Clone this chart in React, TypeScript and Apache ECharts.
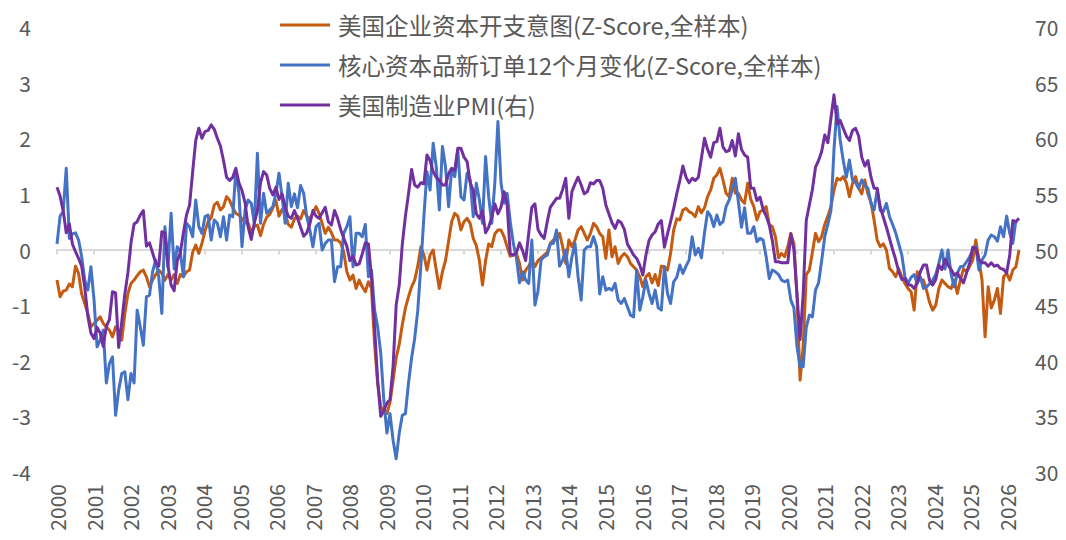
import React, { useEffect, useRef } from "react";
import * as echarts from "echarts";

// Monthly data, Jan 2000 onwards (index 0 = 2000-01)
const startYear = 2000;
const endYear = 2026;

const seriesNames = [
  "美国企业资本开支意图(Z-Score,全样本)",
  "核心资本品新订单12个月变化(Z-Score,全样本)",
  "美国制造业PMI(右)",
];

const capexIntent = [
  -0.55,-0.85,-0.75,-0.73,-0.62,-0.67,-0.30,-0.43,-0.80,-0.97,
  -1.15,-1.39,-1.33,-1.27,-1.21,-1.33,-1.39,-1.45,-1.57,-1.39,
  -1.45,-1.63,-1.15,-0.79,-0.61,-0.55,-0.47,-0.40,-0.37,-0.49,
  -0.67,-0.55,-0.45,-0.37,-0.43,-0.55,-0.45,-0.55,-0.45,-0.61,
  -0.45,-0.49,-0.40,-0.37,-0.05,0.08,-0.07,0.11,0.33,0.50,
  0.57,0.80,0.85,0.71,0.77,0.95,0.88,0.75,0.65,0.62,
  0.55,0.48,0.47,0.32,0.41,0.44,0.25,0.45,0.58,0.63,
  0.75,0.88,0.60,0.72,0.65,0.45,0.40,0.55,0.60,0.55,
  0.70,0.60,0.55,0.65,0.77,0.65,0.47,0.29,0.40,0.30,
  0.17,0.17,0.12,-0.05,-0.40,-0.55,-0.46,-0.70,-0.55,-0.67,
  -0.76,-0.58,-0.70,-1.70,-2.41,-2.83,-2.89,-2.95,-2.75,-2.35,
  -1.95,-1.70,-1.35,-1.05,-0.85,-0.67,-0.55,-0.30,0.05,-0.10,
  -0.37,-0.10,-0.01,-0.37,-0.70,-0.40,-0.20,0.15,0.50,0.65,
  0.60,0.35,0.50,0.56,0.47,0.20,0.07,-0.20,-0.64,-0.20,
  0.10,0.05,0.28,0.35,0.35,0.23,0.05,-0.12,-0.10,-0.07,
  -0.25,-0.55,-0.37,-0.30,-0.19,-0.31,-0.20,-0.15,-0.10,-0.05,
  0.11,0.17,0.17,0.29,0.05,-0.25,0.17,0.05,0.17,0.35,
  0.41,0.29,0.17,0.29,0.47,0.41,0.29,0.23,-0.16,0.35,
  -0.13,0.05,-0.25,-0.13,-0.07,-0.13,-0.25,-0.31,-0.37,-0.49,
  -0.67,-0.49,-0.43,-0.60,-0.45,-0.65,-0.30,-0.31,-0.37,-0.07,
  0.35,0.55,0.53,0.71,0.74,0.68,0.65,0.59,0.77,0.66,
  0.75,0.95,1.07,1.28,1.34,1.46,1.25,1.01,0.95,1.28,
  1.01,1.01,0.89,0.83,1.19,0.90,0.77,0.53,0.68,0.71,
  0.77,0.45,0.41,0.23,-0.15,-0.07,-0.13,0.05,0.29,0.10,
  -0.85,-2.35,-1.75,-0.45,-0.37,-0.05,0.29,0.14,0.23,0.45,
  0.60,0.77,1.07,1.28,1.25,1.31,1.20,0.95,1.19,1.31,
  1.10,1.00,1.25,1.00,0.85,0.53,0.17,0.05,0.10,-0.01,
  -0.34,-0.40,-0.49,-0.35,-0.49,-0.61,-0.70,-0.76,-1.09,-0.40,
  -0.55,-0.55,-0.73,-0.95,-1.09,-1.00,-0.70,-0.55,-0.61,-0.67,
  -0.70,-0.55,-0.79,-0.55,-0.35,-0.40,-0.30,-0.19,0.17,-0.19,
  -0.55,-1.57,-0.67,-1.05,-0.91,-0.70,-1.15,-0.49,-0.43,-0.55,
  -0.37,-0.31,-0.01,
];

const coreOrders = [
  0.10,0.60,0.68,1.46,0.20,0.28,0.30,0.17,-0.13,-0.55,
  -0.73,-0.31,-0.90,-1.75,-1.63,-1.45,-2.40,-2.05,-1.93,-2.98,
  -2.53,-2.23,-2.20,-2.70,-2.23,-2.40,-1.09,-1.39,-1.72,-0.85,
  -0.82,-0.40,-0.19,-0.49,-1.15,0.41,-0.31,0.65,-0.35,0.05,
  -0.05,-0.49,0.47,0.41,0.23,0.89,0.41,0.29,0.59,0.62,
  0.17,0.53,0.47,0.23,0.59,0.17,0.62,0.59,1.43,1.01,
  0.05,0.71,0.89,0.83,0.47,1.73,0.47,1.01,0.65,0.71,
  0.77,1.01,1.37,0.95,0.47,1.19,0.77,1.00,0.75,1.15,
  1.01,0.59,0.35,0.05,0.41,0.47,-0.01,0.11,0.17,0.17,
  -0.58,-0.31,-0.31,0.29,0.41,0.59,-0.31,0.29,0.29,0.23,
  0.45,-0.49,-0.37,-1.09,-1.39,-1.87,-2.71,-3.30,-2.95,-3.43,
  -3.76,-3.30,-2.98,-2.95,-2.40,-1.95,-1.60,-1.10,-0.30,0.60,
  1.40,1.07,1.91,1.49,0.71,1.85,1.49,0.77,1.43,1.31,
  1.79,0.95,0.89,1.37,1.25,0.59,1.19,0.89,0.47,1.67,
  0.95,0.47,1.20,2.30,1.20,0.83,1.01,0.50,0.11,-0.15,
  -0.60,-0.40,-0.55,-0.61,0.17,-1.00,-0.75,-0.19,-0.13,-0.10,
  0.10,0.11,0.35,-0.30,-0.19,-0.01,-0.49,-0.13,0.11,-0.49,
  -0.91,-0.01,0.05,0.05,0.23,0.05,-0.80,-0.49,-0.73,-0.70,
  -0.73,-0.61,-0.91,-0.97,-0.88,-1.03,-1.18,-1.21,-0.37,-1.09,
  -0.85,-0.55,-0.79,-0.97,-0.73,-1.05,-1.09,-0.31,-0.79,-0.97,
  -0.58,-0.50,-0.28,-0.43,-0.30,-0.19,0.23,-0.10,0.02,-0.15,
  0.30,0.68,0.60,0.41,0.62,0.45,0.50,0.77,0.89,1.07,
  1.28,0.85,0.40,0.75,0.29,0.29,0.41,0.14,0.20,0.17,
  -0.13,-0.52,-0.37,-0.40,-0.45,-0.55,-0.58,-0.55,-0.91,-1.05,
  -1.75,-2.11,-2.11,-1.40,-1.18,-1.21,-0.73,-0.60,-0.20,0.23,
  0.45,0.70,1.80,2.57,1.97,1.60,1.30,1.61,1.25,1.20,
  1.10,1.25,1.15,1.10,0.83,0.71,1.07,0.70,0.68,0.83,
  0.59,0.45,0.30,0.10,-0.10,-0.49,-0.61,-0.50,-0.45,-0.61,
  -0.49,-0.70,-0.67,-0.62,-0.55,-0.45,-0.25,-0.01,-0.35,-0.01,
  -0.45,-0.67,-0.43,-0.31,-0.30,-0.22,-0.13,-0.01,0.05,-0.37,
  -0.19,-0.10,0.17,0.26,0.23,0.15,0.41,0.23,0.60,0.29,
  0.11,0.53,
];

const pmi = [
  55.6,54.8,53.5,51.5,52.3,50.5,49.8,49.2,48.5,46.6,
  44.0,42.5,42.0,43.0,42.5,41.3,43.1,43.7,46.2,46.1,
  41.2,43.5,46.0,47.9,50.6,52.3,52.5,53.1,53.5,50.3,
  50.6,49.7,48.8,48.5,51.6,51.5,48.5,46.8,46.3,49.0,
  49.7,51.5,53.1,54.0,57.0,59.8,60.9,60.0,60.6,60.7,
  61.2,60.8,60.0,59.3,58.0,56.5,56.2,56.5,57.3,56.0,
  55.3,54.2,52.0,50.9,52.4,53.5,56.0,57.0,56.7,55.5,
  54.9,55.6,54.5,55.0,53.8,53.0,52.8,53.5,52.8,52.0,
  51.2,51.5,52.3,53.5,53.0,52.8,53.3,53.8,52.5,52.2,
  53.5,52.8,51.8,51.0,50.3,49.0,49.4,48.6,48.7,49.6,
  50.6,50.5,47.5,43.0,38.2,35.0,35.5,36.2,36.5,39.5,
  45.0,46.8,50.5,53.0,55.0,57.2,55.8,55.6,56.0,55.9,
  58.5,58.0,57.0,56.5,56.2,55.8,55.8,56.8,57.3,57.1,
  59.1,59.1,58.3,57.9,56.0,55.3,53.2,52.8,53.5,51.5,
  52.0,52.9,54.1,53.2,53.8,55.2,54.0,49.6,49.5,49.7,
  50.6,49.9,49.0,51.5,53.8,54.1,51.8,51.3,51.0,52.5,
  53.8,54.2,54.6,54.6,55.4,56.4,52.8,55.2,55.9,56.5,
  55.8,55.0,55.2,56.0,55.9,56.2,56.2,55.5,54.0,53.2,
  52.4,51.9,52.6,52.4,51.8,50.5,50.0,49.5,49.2,48.6,
  47.7,49.5,50.8,51.3,51.6,52.3,52.6,50.2,51.4,52.5,
  53.7,55.0,56.2,57.5,56.5,56.0,56.4,56.2,56.5,58.2,
  60.0,59.0,58.3,59.6,59.7,60.9,59.2,58.8,58.9,59.8,
  58.4,60.4,59.0,58.5,58.3,55.5,55.5,54.4,54.7,53.6,
  53.0,52.2,50.8,48.9,48.9,48.8,48.8,48.8,51.4,50.0,
  46.0,41.9,46.0,52.6,54.0,55.4,57.4,58.0,58.8,60.3,
  59.6,61.8,63.9,61.3,61.6,60.9,60.2,59.8,60.7,60.9,
  60.2,58.3,57.5,58.0,56.5,55.5,55.5,53.8,52.9,52.0,
  51.0,50.0,49.1,48.0,47.3,47.4,46.8,46.8,46.5,47.0,
  48.0,48.6,48.6,47.2,46.8,47.3,48.6,48.2,49.1,48.6,
  48.2,47.7,47.9,47.4,47.0,47.9,48.8,50.2,50.1,49.1,
  48.8,48.8,48.5,48.8,48.5,48.6,48.3,48.2,47.9,49.5,
  52.6,52.5,52.8,
];

const colors = ["#C55A11", "#4472C4", "#7030A0"];
const FONT = '"Noto Sans CJK SC", "Noto Sans", sans-serif';
const TEXT = "#595959";

export default function App() {
  const ref = useRef<HTMLDivElement>(null);

  useEffect(() => {
    if (!ref.current) return;
    const chart = echarts.init(ref.current, null, { renderer: "svg" });
    const pairs = (arr: number[]) => arr.map((v, i) => [i, v]);
    const maxIdx = (endYear - startYear) * 12;

    const lineSeries = (name: string, data: number[], color: string, yIdx: number) => ({
      name,
      type: "line",
      data: pairs(data),
      xAxisIndex: 0,
      yAxisIndex: yIdx,
      showSymbol: false,
      symbol: "none",
      color,
      itemStyle: { color },
      lineStyle: { width: 3, color, join: "round" },
    });

    chart.setOption({
      animation: false,
      backgroundColor: "#ffffff",
      textStyle: { fontFamily: FONT },
      grid: { left: 57, right: 47, top: 27, bottom: 68, containLabel: false },
      legend: {
        orient: "vertical",
        left: 275,
        top: 7,
        itemWidth: 50,
        itemHeight: 3,
        itemGap: 14,
        icon: "rect",
        data: seriesNames,
        textStyle: {
          fontSize: 23.5,
          color: TEXT,
          lineHeight: 26,
          fontFamily: FONT,
          padding: [0, 0, 0, 3],
        },
      },
      xAxis: [
        {
          type: "value",
          min: 0,
          max: maxIdx,
          interval: 12,
          axisLine: { show: true, onZero: true, lineStyle: { color: "#D9D9D9", width: 2 } },
          axisTick: { show: true, length: 5, lineStyle: { color: "#D9D9D9", width: 2 } },
          axisLabel: { show: false },
          splitLine: { show: false },
        },
        {
          // label-only axis; slightly wider scale so labels sit as in the reference
          type: "value",
          min: 0,
          max: 316,
          interval: 12,
          position: "bottom",
          axisLine: { show: false, onZero: false },
          axisTick: { show: false },
          splitLine: { show: false },
          axisLabel: {
            rotate: 90,
            fontSize: 21,
            color: TEXT,
            margin: 12,
            fontFamily: FONT,
            showMaxLabel: false,
            formatter: (v: number) => (v % 12 === 0 ? String(startYear + v / 12) : ""),
          },
        },
      ],
      yAxis: [
        {
          type: "value",
          min: -4,
          max: 4,
          interval: 1,
          position: "left",
          axisLine: { show: false },
          axisTick: { show: false },
          splitLine: { show: false },
          axisLabel: { fontSize: 21, color: TEXT, margin: 26, fontFamily: FONT },
        },
        {
          type: "value",
          min: 30,
          max: 70,
          interval: 5,
          position: "right",
          axisLine: { show: false },
          axisTick: { show: false },
          splitLine: { show: false },
          axisLabel: { fontSize: 21, color: TEXT, margin: 16, fontFamily: FONT },
        },
      ],
      series: [
        lineSeries(seriesNames[0], capexIntent, colors[0], 0),
        lineSeries(seriesNames[1], coreOrders, colors[1], 0),
        lineSeries(seriesNames[2], pmi, colors[2], 1),
      ],
    });

    return () => chart.dispose();
  }, []);

  return (
    <div
      ref={ref}
      style={{ position: "fixed", left: 0, top: 0, width: 1066, height: 540, background: "#fff" }}
    />
  );
}
